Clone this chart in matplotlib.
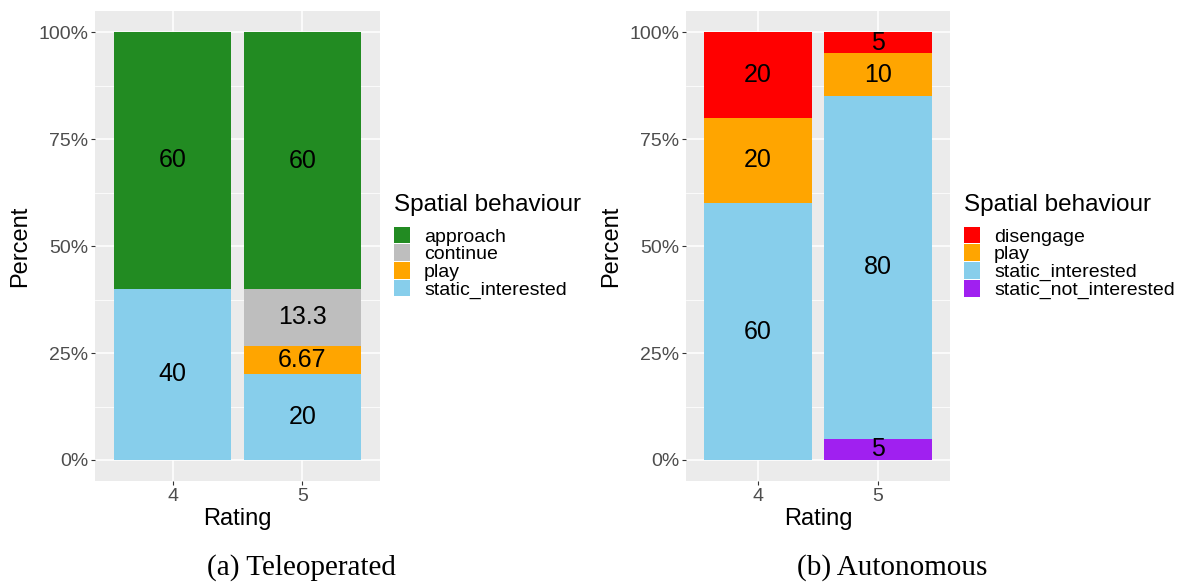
import matplotlib
matplotlib.use("Agg")
import matplotlib.pyplot as plt
from matplotlib.patches import Patch
from matplotlib.ticker import FixedLocator, PercentFormatter

plt.rcParams['font.family'] = ['Liberation Sans', 'DejaVu Sans']

# teleoperated panel
tele_ratings = [4, 5]
tele_cats = ["approach", "continue", "play", "static_interested"]
tele_vals = {
    "approach": [60, 60],
    "continue": [0, 13.3],
    "play": [0, 6.67],
    "static_interested": [40, 20],
}
tele_labels = {
    "approach": ["60", "60"],
    "continue": ["", "13.3"],
    "play": ["", "6.67"],
    "static_interested": ["40", "20"],
}

# autonomous panel
auto_ratings = [4, 5]
auto_cats = ["disengage", "play", "static_interested", "static_not_interested"]
auto_vals = {
    "disengage": [20, 5],
    "play": [20, 10],
    "static_interested": [60, 80],
    "static_not_interested": [0, 5],
}
auto_labels = {
    "disengage": ["20", "5"],
    "play": ["20", "10"],
    "static_interested": ["60", "80"],
    "static_not_interested": ["", "5"],
}

colors = {
    "approach": "#228B22",
    "continue": "#BEBEBE",
    "play": "#FFA500",
    "static_interested": "#87CEEB",
    "disengage": "#FF0000",
    "static_not_interested": "#A020F0",
}

W, H = 1187, 588
fig = plt.figure(figsize=(W / 100, H / 100), dpi=100)


def panel(rect, ratings, cats, vals, labels, legend_xy, caption, cap_x):
    x0, x1, y0, y1 = rect
    ax = fig.add_axes([x0 / W, 1 - y1 / H, (x1 - x0) / W, (y1 - y0) / H])
    ax.set_facecolor("#EBEBEB")
    bottom = [0.0] * len(ratings)
    # stack in reverse legend order (ggplot style)
    for c in reversed(cats):
        v = vals[c]
        ax.bar(ratings, v, width=0.9, bottom=bottom, color=colors[c], zorder=2)
        for i, r in enumerate(ratings):
            if labels[c][i]:
                ax.text(r, bottom[i] + v[i] / 2, labels[c][i], ha="center",
                        va="center", fontsize=18, color="black", zorder=3)
        bottom = [b + x for b, x in zip(bottom, v)]
    ax.set_xlim(3.4, 5.6)
    ax.set_ylim(-5, 105)
    ax.yaxis.set_major_locator(FixedLocator([0, 25, 50, 75, 100]))
    ax.yaxis.set_minor_locator(FixedLocator([12.5, 37.5, 62.5, 87.5]))
    ax.yaxis.set_major_formatter(PercentFormatter(decimals=0))
    ax.set_xticks(ratings)
    ax.grid(which="major", color="white", linewidth=1.1, zorder=0)
    ax.grid(which="minor", axis="y", color="white", linewidth=0.55, zorder=0)
    ax.set_axisbelow(True)
    for s in ax.spines.values():
        s.set_visible(False)
    ax.tick_params(which="major", length=3, width=0.8, color="#333333",
                   labelsize=14, labelcolor="#4D4D4D", pad=2)
    ax.tick_params(which="minor", length=0)
    ax.set_xlabel("Rating", fontsize=17, labelpad=2)
    ax.set_ylabel("Percent", fontsize=17, labelpad=5)

    lx, ly = legend_xy
    fig.text(lx / W, 1 - ly / H, "Spatial behaviour", ha="left", va="center",
             fontsize=17.5)
    handles = [Patch(facecolor=colors[c], edgecolor="none") for c in cats]
    fig.legend(handles, cats, loc="upper left",
               bbox_to_anchor=(lx / W, 1 - (ly + 21.5) / H),
               frameon=False, fontsize=14,
               handlelength=0.8, handleheight=0.95, handletextpad=0.75,
               labelspacing=-0.07, borderpad=0, borderaxespad=0)
    fig.text(cap_x / W, 1 - 568 / H, caption, ha="center", va="center",
             fontsize=21, family=["Liberation Serif", "DejaVu Serif"])
    return ax


panel((95, 380, 10.6, 481.4), tele_ratings, tele_cats, tele_vals, tele_labels,
      (394, 205), "(a) Teleoperated", 301)
panel((686, 950, 10.6, 481.4), auto_ratings, auto_cats, auto_vals, auto_labels,
      (964, 205), "(b) Autonomous", 892)

fig.savefig("out.png", dpi=100)
